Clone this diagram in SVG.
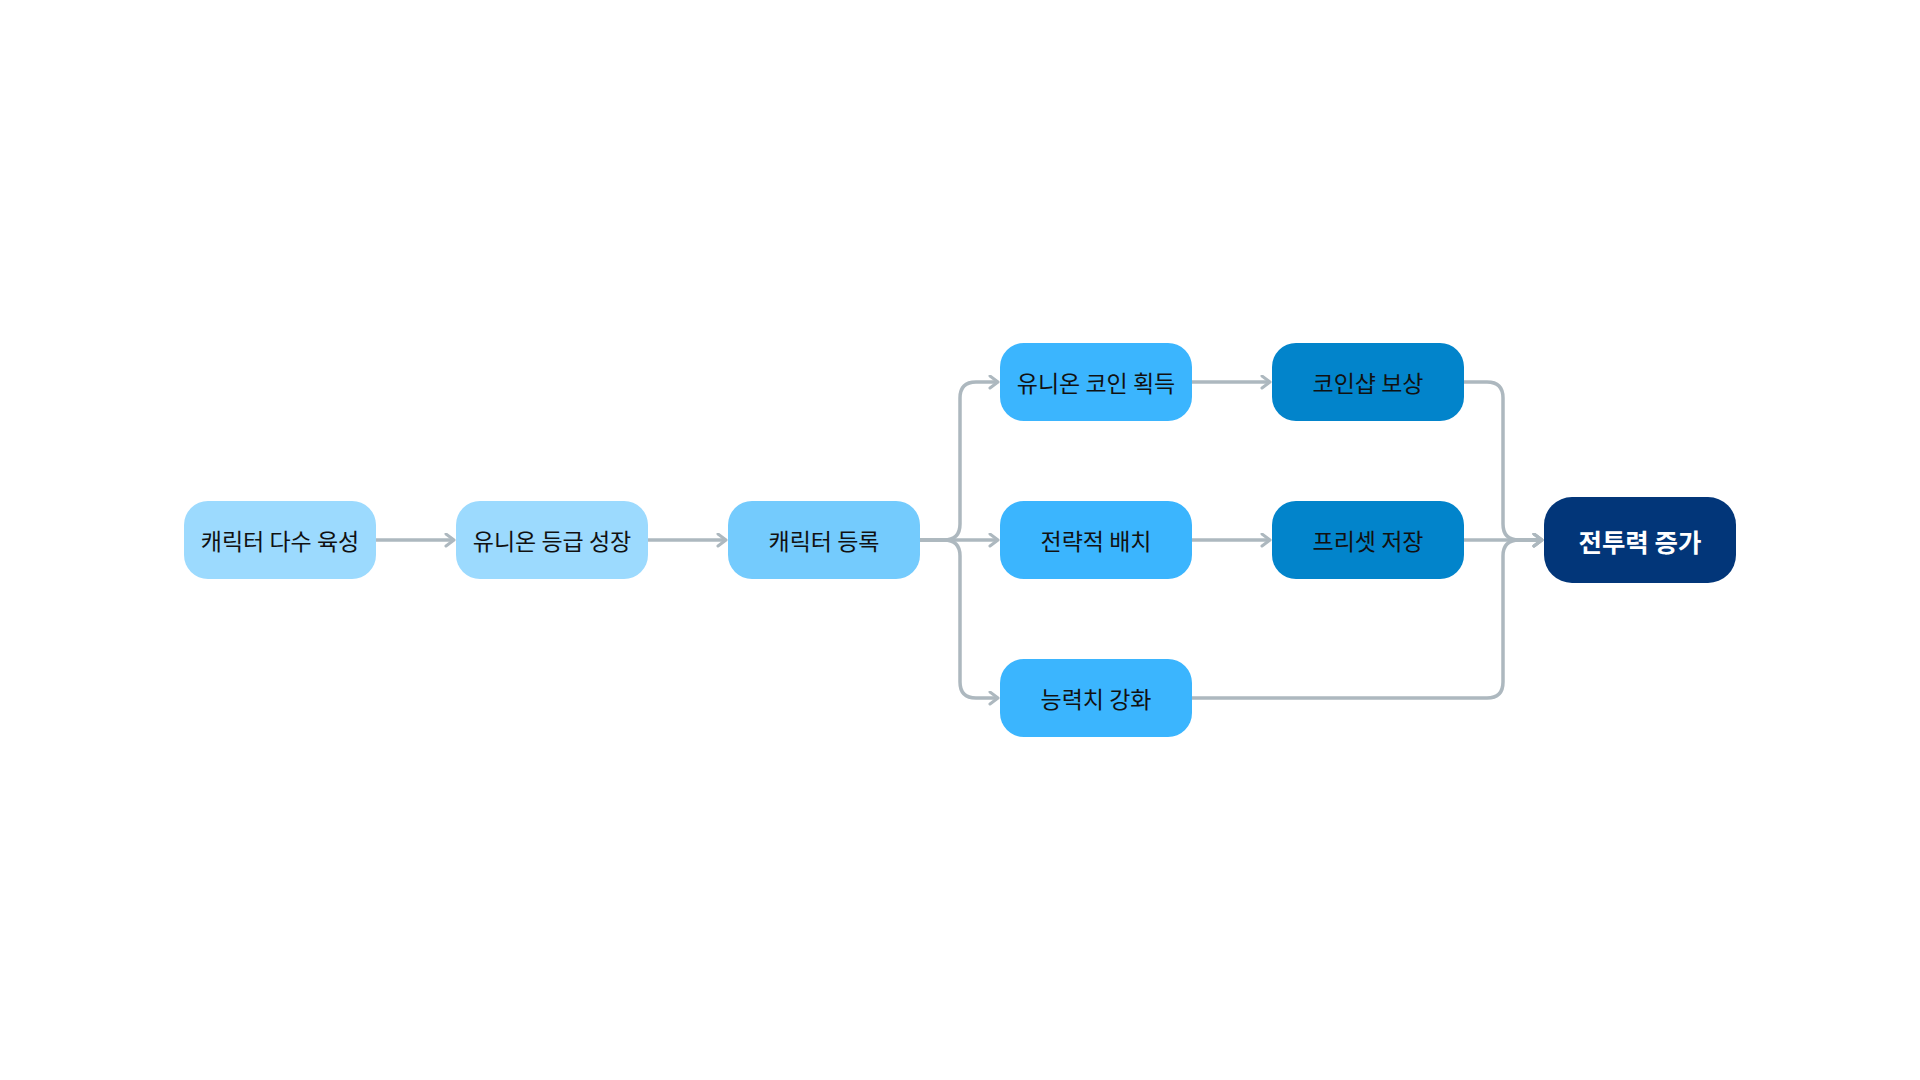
<svg xmlns="http://www.w3.org/2000/svg" width="1920" height="1080" viewBox="0 0 1920 1080">
<defs>
<style>
.n rect{rx:24px;ry:24px}
.t{font-family:"Noto Sans CJK KR","Noto Sans",sans-serif;font-size:23px;fill:#111;text-anchor:middle;dominant-baseline:central}
.tf{font-family:"Noto Sans CJK KR","Noto Sans",sans-serif;font-size:25.5px;font-weight:700;fill:#fff;text-anchor:middle;dominant-baseline:central}
.c path{fill:none;stroke:#ADB8BF;stroke-width:3.5;marker-end:url(#ah)}
.l1{fill:#9CDAFE}.l2{fill:#74CBFD}.l3{fill:#3BB5FE}.l4{fill:#0284CB}.l5{fill:#023679}
</style>
<marker id="ah" markerWidth="14" markerHeight="16" refX="10" refY="7" orient="auto" markerUnits="userSpaceOnUse">
<path d="M2,1 L10,7 L2,13" fill="none" stroke="#ADB8BF" stroke-width="3" stroke-linecap="round" stroke-linejoin="round"/>
</marker>
</defs>
<rect width="1920" height="1080" fill="#fff"/>
<g id="connectors" class="c">
<path d="M376,540 H454"/>
<path d="M648,540 H726"/>
<path d="M920,540 H944 Q960,540 960,524 V398 Q960,382 976,382 H998"/>
<path d="M920,540 H998"/>
<path d="M920,540 H944 Q960,540 960,556 V682 Q960,698 976,698 H998"/>
<path d="M1192,382 H1270"/>
<path d="M1192,540 H1270"/>
<path d="M1464,382 H1487 Q1503,382 1503,398 V524 Q1503,540 1519,540 H1542"/>
<path d="M1464,540 H1542"/>
<path d="M1192,698 H1487 Q1503,698 1503,682 V556 Q1503,540 1519,540 H1542"/>
</g>
<g id="n1" class="n"><rect class="l1" x="184" y="501" width="192" height="78"/><text class="t" x="280" y="540">캐릭터 다수 육성</text></g>
<g id="n2" class="n"><rect class="l1" x="456" y="501" width="192" height="78"/><text class="t" x="552" y="540">유니온 등급 성장</text></g>
<g id="n3" class="n"><rect class="l2" x="728" y="501" width="192" height="78"/><text class="t" x="824" y="540">캐릭터 등록</text></g>
<g id="n4" class="n"><rect class="l3" x="1000" y="343" width="192" height="78"/><text class="t" x="1096" y="382">유니온 코인 획득</text></g>
<g id="n5" class="n"><rect class="l3" x="1000" y="501" width="192" height="78"/><text class="t" x="1096" y="540">전략적 배치</text></g>
<g id="n6" class="n"><rect class="l3" x="1000" y="659" width="192" height="78"/><text class="t" x="1096" y="698">능력치 강화</text></g>
<g id="n7" class="n"><rect class="l4" x="1272" y="343" width="192" height="78"/><text class="t" x="1368" y="382">코인샵 보상</text></g>
<g id="n8" class="n"><rect class="l4" x="1272" y="501" width="192" height="78"/><text class="t" x="1368" y="540">프리셋 저장</text></g>
<g id="n9"><rect class="l5" x="1544" y="497" width="192" height="86" rx="28" ry="28"/><text class="tf" x="1640" y="540">전투력 증가</text></g>
</svg>
